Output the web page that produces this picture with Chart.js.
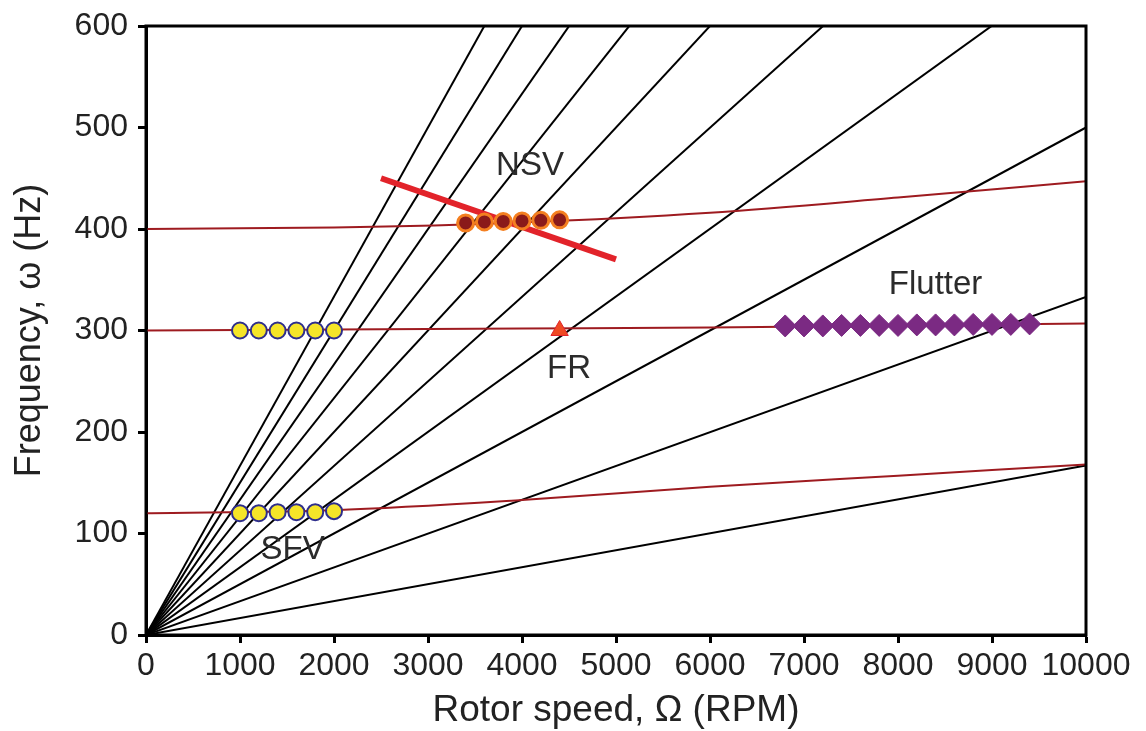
<!DOCTYPE html>
<html>
<head>
<meta charset="utf-8">
<script src="https://cdn.jsdelivr.net/npm/chart.js@4.4.1/dist/chart.umd.min.js"></script>
<style>
  body { margin: 0; background: #fff; }
</style>
</head>
<body>
<canvas id="campbell" width="1146" height="731"></canvas>
<script>
// engine order lines: frequency reached at 10000 RPM (1EO .. 10EO)
var eoSpeeds = [0, 10000];
var eoEndFreq = [167, 333, 500, 667, 833, 1000, 1167, 1333, 1500, 1667];

// blade mode frequencies vs rotor speed
var modeSpeeds = [0, 2000, 4000, 6000, 8000, 10000];
var mode1Freq = [120, 123, 133, 146, 157, 168];
var mode2Freq = [300, 301, 302, 303, 305, 307];
var mode3Freq = [400, 401.5, 406.5, 416, 431, 447];

// NSV trend line
var nsvTrendSpeed = [2500, 5000];
var nsvTrendFreq = [450, 370];

// measured points
var nsvSpeed = [3400, 3600, 3800, 4000, 4200, 4400];
var nsvFreq = [406, 407, 407.5, 408, 408.5, 409];

var sfvSpeed = [1000, 1200, 1400, 1600, 1800, 2000];
var sfvHighFreq = [300, 300, 300, 300, 300, 300];
var sfvLowFreq = [120, 120, 121, 121, 121, 122];

var frSpeed = [4400];
var frFreq = [300];

var flutterSpeed = [6800, 7000, 7200, 7400, 7600, 7800, 8000, 8200, 8400, 8600, 8800, 9000, 9200, 9400];
var flutterFreq = [304.5, 304.5, 304.5, 305, 305, 305, 305, 305.5, 305.5, 305.5, 306, 306, 306, 306.5];

// text labels in the plot
var labelText = ['NSV', 'Flutter', 'FR', 'SFV'];
var labelSpeed = [4085, 8400, 4500, 1560];
var labelFreq = [462, 345, 262, 84];

var xTicks = [0, 1000, 2000, 3000, 4000, 5000, 6000, 7000, 8000, 9000, 10000];
var yTicks = [0, 100, 200, 300, 400, 500, 600];

function toPoints(xs, ys) {
    return xs.map(function (x, i) { return { x: x, y: ys[i] }; });
}

var datasets = [];

eoEndFreq.forEach(function (f) {
    datasets.push({
        data: toPoints(eoSpeeds, [0, f]),
        showLine: true,
        borderColor: '#000',
        borderWidth: 2,
        pointRadius: 0,
        order: 4
    });
});

[mode1Freq, mode2Freq, mode3Freq].forEach(function (m) {
    datasets.push({
        data: toPoints(modeSpeeds, m),
        showLine: true,
        borderColor: '#9e1b20',
        borderWidth: 2,
        pointRadius: 0,
        cubicInterpolationMode: 'monotone',
        order: 3
    });
});

datasets.push({
    data: toPoints(nsvTrendSpeed, nsvTrendFreq),
    showLine: true,
    borderColor: '#e2232a',
    borderWidth: 6,
    pointRadius: 0,
    order: 2
});

datasets.push({
    data: toPoints(nsvSpeed, nsvFreq),
    showLine: false,
    pointRadius: 8,
    pointBackgroundColor: '#8a1a1a',
    pointBorderColor: '#f47f20',
    pointBorderWidth: 3,
    order: 1
});

[sfvHighFreq, sfvLowFreq].forEach(function (s) {
    datasets.push({
        data: toPoints(sfvSpeed, s),
        showLine: false,
        pointRadius: 8,
        pointBackgroundColor: '#f5e528',
        pointBorderColor: '#2e2e8c',
        pointBorderWidth: 2,
        order: 1
    });
});

datasets.push({
    data: toPoints(frSpeed, frFreq),
    showLine: false,
    pointStyle: 'triangle',
    pointRadius: 10,
    pointBackgroundColor: '#ef4a23',
    pointBorderColor: '#e2232a',
    pointBorderWidth: 1,
    order: 1
});

datasets.push({
    data: toPoints(flutterSpeed, flutterFreq),
    showLine: false,
    pointStyle: 'rectRot',
    pointRadius: 11,
    pointBackgroundColor: '#7b2a83',
    pointBorderColor: '#7b2a83',
    pointBorderWidth: 1,
    order: 1
});

// box around the plot + in-plot labels
var framePlugin = {
    id: 'frame',
    afterDatasetsDraw: function (chart) {
        var ctx = chart.ctx;
        var a = chart.chartArea;
        var xs = chart.scales.x, ys = chart.scales.y;
        ctx.save();
        ctx.fillStyle = '#2b2b2b';
        ctx.font = '33px "Liberation Sans", Arial, sans-serif';
        ctx.textAlign = 'center';
        ctx.textBaseline = 'middle';
        labelText.forEach(function (t, i) {
            ctx.fillText(t, xs.getPixelForValue(labelSpeed[i]), ys.getPixelForValue(labelFreq[i]));
        });
        ctx.strokeStyle = '#000';
        ctx.lineWidth = 3;
        ctx.strokeRect(a.left, a.top, a.right - a.left, a.bottom - a.top);
        ctx.restore();
    }
};

var tickFont = { family: '"Liberation Sans", Arial, sans-serif', size: 32, lineHeight: 1 };

var ctx = document.getElementById('campbell').getContext('2d');
var chart = new Chart(ctx, {
    type: 'scatter',
    data: { datasets: datasets },
    options: {
        responsive: false,
        animation: false,
        layout: { padding: { left: 0, right: 60, top: 24, bottom: 0 } },
        plugins: {
            legend: { display: false },
            tooltip: { enabled: false }
        },
        scales: {
            x: {
                type: 'linear',
                min: 0,
                max: 10000,
                afterFit: function (s) { s.height = 96; },
                afterBuildTicks: function (s) { s.ticks = xTicks.map(function (v) { return { value: v }; }); },
                grid: { drawOnChartArea: false, drawTicks: true, tickLength: 8, tickWidth: 3, tickColor: '#000' },
                border: { display: true, width: 3, color: '#000' },
                ticks: {
                    color: '#222',
                    padding: 7,
                    maxRotation: 0,
                    autoSkip: false,
                    callback: function (v) { return String(v); },
                    font: tickFont
                },
                title: {
                    display: true,
                    text: 'Rotor speed, Ω (RPM)',
                    color: '#222',
                    padding: { top: 0, bottom: 2 },
                    font: { family: '"Liberation Sans", Arial, sans-serif', size: 37, lineHeight: 1 }
                }
            },
            y: {
                type: 'linear',
                min: 0,
                max: 600,
                afterFit: function (s) { s.width = 146; },
                afterBuildTicks: function (s) { s.ticks = yTicks.map(function (v) { return { value: v }; }); },
                grid: { drawOnChartArea: false, drawTicks: true, tickLength: 8, tickWidth: 3, tickColor: '#000' },
                border: { display: true, width: 3, color: '#000' },
                ticks: {
                    color: '#222',
                    padding: 10,
                    autoSkip: false,
                    callback: function (v) { return String(v); },
                    font: tickFont
                },
                title: {
                    display: true,
                    text: 'Frequency, ω (Hz)',
                    color: '#222',
                    padding: { top: 12, bottom: 0 },
                    font: { family: '"Liberation Sans", Arial, sans-serif', size: 36, lineHeight: 1 }
                }
            }
        }
    },
    plugins: [framePlugin]
});
</script>
</body>
</html>
